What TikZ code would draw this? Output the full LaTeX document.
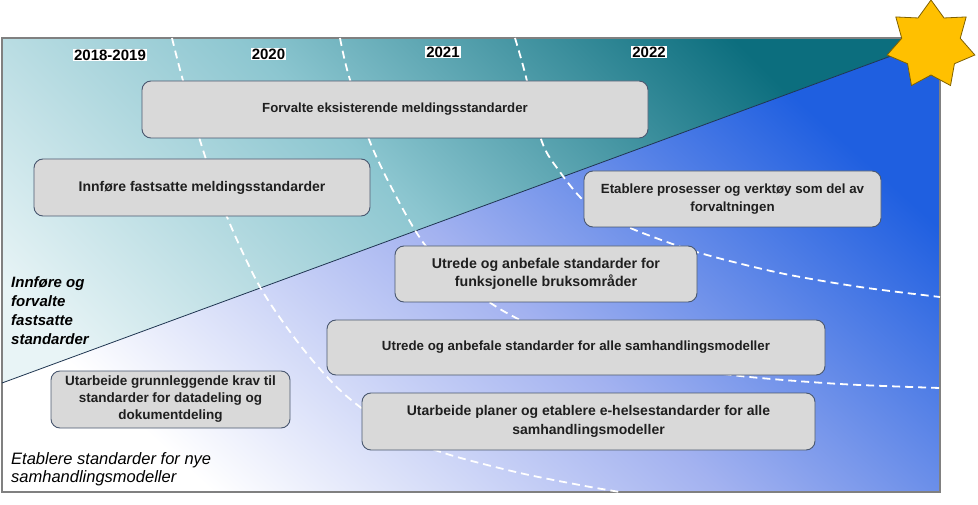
\documentclass[tikz,border=0pt]{standalone}
\usepackage{fontspec}
\setmainfont{Liberation Sans}
\definecolor{tealdark}{HTML}{0C6E7E}
\definecolor{tealmid}{HTML}{8CC6D0}
\definecolor{teallight}{HTML}{E8F4F6}
\definecolor{bluedark}{HTML}{1F5FE0}
\definecolor{bluemid}{HTML}{A3B2F0}
\definecolor{boxfill}{HTML}{D9D9D9}
\definecolor{boxline}{HTML}{4A5870}
\definecolor{starfill}{HTML}{FFC000}
\definecolor{starline}{HTML}{7F6000}
\definecolor{framegray}{HTML}{808080}
\definecolor{diagline}{HTML}{1E3550}
\begin{document}
\begin{tikzpicture}[x=1pt,y=-1pt,
  box/.style={draw=boxline, line width=0.9pt, fill=boxfill, rounded corners=9pt,
    align=center, text=black!88, inner sep=2pt},
  bf/.style={font=\fontsize{#1}{18.5}\selectfont\bfseries},
  yearlbl/.style={fill=white, inner sep=1pt, font=\fontsize{15}{16}\selectfont\bfseries},
  sidelbl/.style={anchor=north west, align=left, inner sep=0pt},
  tline/.style={white, line width=1.8pt, dash pattern=on 8pt off 5pt}
]
\useasboundingbox (0,0) rectangle (978,505);
% backgrounds
\begin{scope}
  \clip (2,38) -- (940,38) -- (2,383) -- cycle;
  \shade[top color=tealdark, bottom color=teallight, middle color=tealmid, shading angle=-45]
    (2,38) rectangle (940,492);
\end{scope}
\begin{scope}
  \clip (2,383) -- (940,38) -- (940,492) -- (2,492) -- cycle;
  \shade[top color=bluedark, bottom color=white, middle color=bluemid, shading angle=-42]
    (2,38) rectangle (940,492);
\end{scope}
\draw[framegray, line width=1.2pt] (2,38) rectangle (940,492);
\draw[diagline, line width=0.8pt] (2,383) -- (940,38);
% dashed time lines
\draw[tline] plot[smooth] coordinates {(172,38) (182,77) (203,150) (227,217) (260,287) (300,345) (343,393) (400,435) (447,454) (520,473) (585,486) (620,492)};
\draw[tline] plot[smooth] coordinates {(340,38) (348,73) (370,142) (398,200) (425,245) (460,280) (505,312) (570,342) (650,363) (740,376) (840,384) (940,388)};
\draw[tline] plot[smooth] coordinates {(515,38) (525,73) (542,142) (560,172) (583,200) (610,218) (640,232) (700,253) (780,273) (860,287) (940,297)};
% boxes
\node[box, bf=13.2, minimum width=506pt, minimum height=57pt] (A) at (395,109.5) {Forvalte eksisterende meldingsstandarder};
\node[box, bf=14, minimum width=336pt, minimum height=57pt] (B) at (202,187.5) {Innføre fastsatte meldingsstandarder};
\node[box, bf=13.3, minimum width=297pt, minimum height=56pt] (C) at (732.5,199) {Etablere prosesser og verktøy som del av\\forvaltningen};
\node[box, bf=14.2, minimum width=302pt, minimum height=56pt] (D) at (546,274) {Utrede og anbefale standarder for\\funksjonelle bruksområder};
\node[box, bf=13.3, minimum width=498pt, minimum height=55pt] (E) at (576,347.5) {Utrede og anbefale standarder for alle samhandlingsmodeller};
\node[box, minimum width=239pt, minimum height=57pt, font=\fontsize{13.5}{17}\selectfont\bfseries] (F) at (170.5,399.5) {Utarbeide grunnleggende krav til\\standarder for datadeling og\\dokumentdeling};
\node[box, bf=14, minimum width=453pt, minimum height=57pt] (G) at (588.5,421.5) {Utarbeide planer og etablere e-helsestandarder for alle\\samhandlingsmodeller};
% years
\node[yearlbl] (y1) at (110,55) {2018-2019};
\node[yearlbl] (y2) at (268.5,54) {2020};
\node[yearlbl] (y3) at (443,52) {2021};
\node[yearlbl] (y4) at (649,52) {2022};
% side labels
\node[sidelbl, font=\fontsize{15}{19}\selectfont\bfseries\itshape] (s1) at (11,276) {Innføre og\\forvalte\\fastsatte\\standarder};
\node[sidelbl, font=\fontsize{16.5}{18.5}\selectfont\itshape] (s2) at (11,452) {Etablere standarder for nye\\samhandlingsmodeller};
% star
\begin{scope}[shift={(931,45)}]
  \draw[fill=starfill, draw=starline, line width=0.8pt] (-90:45)
    \foreach \k [evaluate=\k as \r using {ifthenelse(mod(\k,2)==0,45,30)}] in {1,...,13} { -- ({-90+\k*180/7}:\r) } -- cycle;
\end{scope}
\end{tikzpicture}
\end{document}
